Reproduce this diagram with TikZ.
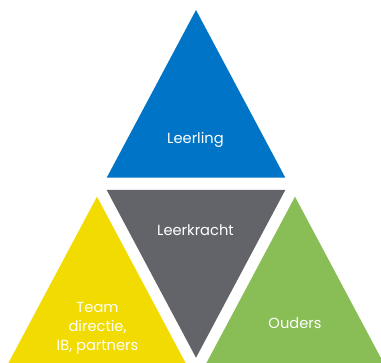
\documentclass[tikz,border=0pt]{standalone}
\usepackage{fontspec}
\setmainfont{Poppins}
\usepackage{tikz}
\definecolor{LeerlingColor}{RGB}{0,117,199}
\definecolor{LeerkrachtColor}{RGB}{99,100,106}
\definecolor{TeamColor}{RGB}{242,219,0}
\definecolor{OudersColor}{RGB}{137,190,87}
\begin{document}
\begin{tikzpicture}[x=0.75pt,y=0.75pt,
    tritext/.style={text=white,font=\fontsize{11}{14.25}\selectfont,align=center,inner sep=0pt}]
\clip (0,0) rectangle (381,363);

\fill[LeerlingColor] (106.7,185.3) -- (196.0,353.0) -- (285.3,185.3) -- cycle;
\fill[LeerkrachtColor] (106.7,173.0) -- (285.3,173.0) -- (196.0,5.3) -- cycle;
\fill[TeamColor] (7.7,-1.4) -- (97.0,166.3) -- (186.3,-1.4) -- cycle;
\fill[OudersColor] (205.7,-1.4) -- (295.0,166.3) -- (384.3,-1.4) -- cycle;

\node[tritext,anchor=base] (leerling) at (195.5,219.0) {Leerling};
\node[tritext,anchor=base] (leerkracht) at (195.5,127.0) {Leerkracht};
\node[tritext] (team) at (97.5,35.0) {Team\\directie,\\IB, partners};
\node[tritext,anchor=base] (ouders) at (295.0,34.7) {Ouders};
\end{tikzpicture}
\end{document}
